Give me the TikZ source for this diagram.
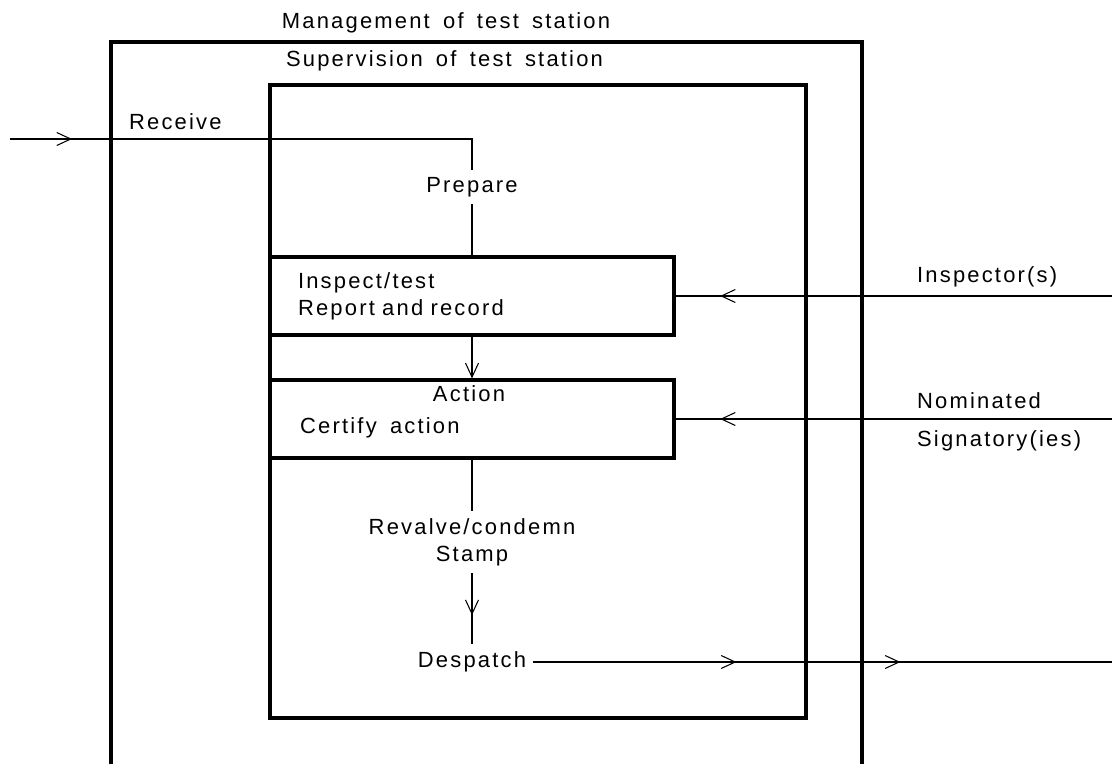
\documentclass[tikz,border=0pt]{standalone}
\usepackage{fontspec}
\setmainfont{Liberation Sans}[LetterSpace=10, WordSpace=1.6]
\usetikzlibrary{arrows.meta, decorations.markings}

\begin{document}
\begin{tikzpicture}[
  x=0.02cm, y=-0.02cm,
  every node/.style={font=\fontsize{12.5}{15.4}\selectfont, inner sep=1pt},
  stationframe/.style={draw, line width=1.9pt},
  procbox/.style={draw, line width=1.9pt, minimum width=8.08cm, minimum height=1.56cm},
  stage/.style={inner sep=4pt},
  flow/.style={line width=0.6pt},
  openv/.tip={Straight Barb[length=2.8mm, width=2.6mm]},
  midtip/.style={postaction={decorate, decoration={markings, mark=at position #1 with {\arrow{openv}}}}},
]
  \useasboundingbox (0,0) rectangle (1112,764);

  \draw[stationframe] (111,764) -- (111,42) -- (862,42) -- (862,764);
  \node (mgmt) at (446,23) {Management of test station};
  \node[stationframe, minimum width=10.72cm, minimum height=12.66cm] (superv) at (538,401.5) {};
  \node (supervlabel) at (444.5,61) {Supervision of test station};

  \node[procbox, text width=6.96cm, inner xsep=0.56cm, align=left] (inspect) at (472,296) {Inspect/test\\Report and record};
  \node[procbox] (action) at (472,419) {};
  \node (actionlabel) at (469,394) {Action};
  \node[anchor=west] (certify) at (298,428) {Certify action};

  \node[stage] (prepare) at (472,187) {Prepare};
  \node[stage, align=center] (revalve) at (472,542) {Revalve/condemn\\Stamp};
  \node[stage] (despatch) at (472,662) {Despatch};

  \node[anchor=west] (receive) at (127,121.5) {Receive};
  \node[anchor=west] (inspector) at (915,277) {Inspector(s)};
  \node[anchor=west] (nominated) at (915,401) {Nominated};
  \node[anchor=west] (signatory) at (915,441) {Signatory(ies)};

  \coordinate (recvin) at (10,139);
  \coordinate (recvturn) at (472,139);
  \coordinate (inspin) at (1112,296);
  \coordinate (nomin) at (1112,419);
  \coordinate (despout) at (1112,662);

  \draw[flow, midtip=1.24cm] (recvin) -- (recvturn) -- (prepare);
  \draw[flow] (prepare) -- (inspect);
  \draw[flow, -openv] (inspect) -- (action);
  \draw[flow] (action) -- (revalve);
  \draw[flow, midtip=0.84cm] (revalve) -- (despatch);
  \draw[flow, midtip=4.06cm, midtip=7.34cm] (despatch) -- (despout);
  \draw[flow, midtip=7.84cm] (inspin) -- (inspect);
  \draw[flow, midtip=7.84cm] (nomin) -- (action);
\end{tikzpicture}
\end{document}
